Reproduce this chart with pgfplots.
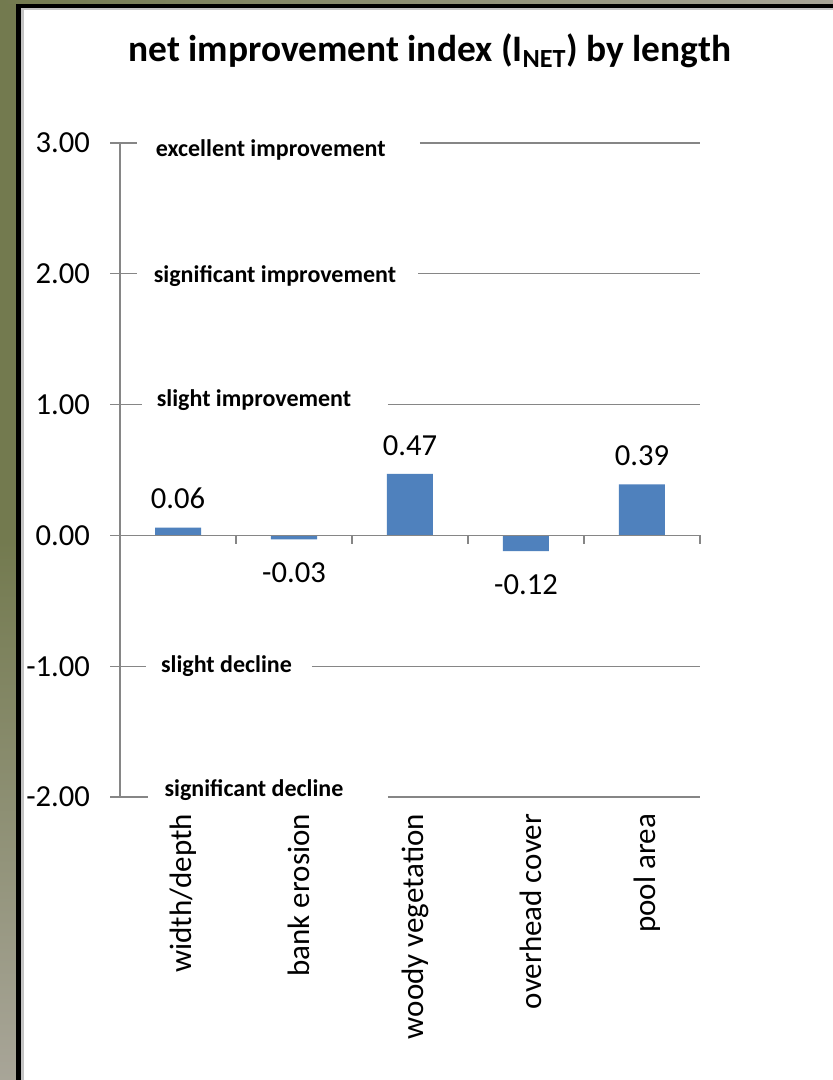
\documentclass[border=0pt]{standalone}
\usepackage{pgfplots}
\pgfplotsset{compat=1.18}
\usepackage{fontspec}
\setmainfont{Carlito}
\definecolor{barblue}{HTML}{4F81BD}
\definecolor{axgray}{HTML}{868686}
\definecolor{olivebg}{HTML}{737A4F}
\definecolor{greybg}{HTML}{A8A598}
\definecolor{framegrey}{HTML}{C4C4C4}
\begin{document}
\begin{tikzpicture}
\useasboundingbox (0,0) rectangle (416.5pt,-540pt);
% slide background and frame
\fill[top color=olivebg, bottom color=greybg, middle color=olivebg] (0,0) rectangle (8pt,-540pt);
\fill[left color=olivebg, right color=greybg] (0,0) rectangle (416.5pt,-2pt);
\fill[black] (8pt,-2pt) rectangle (416.5pt,-4pt);
\fill[black] (8pt,-2pt) rectangle (10.5pt,-540pt);
\fill[framegrey] (10.5pt,-4pt) rectangle (416.5pt,-5pt);
\fill[framegrey] (10.5pt,-4pt) rectangle (12pt,-540pt);
\fill[white] (12pt,-5pt) rectangle (416.5pt,-540pt);
% title
\node[font=\bfseries\fontsize{18.7}{22}\selectfont, anchor=base] at (215pt,-31pt)
  {net improvement index (I\textsubscript{NET}) by length};
\begin{axis}[
  at={(60pt,-398.5pt)}, anchor=south west,
  scale only axis, width=290pt, height=327pt,
  xmin=-0.5, xmax=4.5, ymin=-2, ymax=3,
  axis y line=left, axis x line=bottom,
  y axis line style={-, draw=axgray, line width=0.6pt},
  x axis line style={draw=none},
  ytick={-2,-1,0,1,2,3},
  yticklabels={-2.00,-1.00,0.00,1.00,2.00,3.00},
  tick align=outside,
  major tick length=5pt,
  ytick style={draw=axgray, line width=0.6pt},
  xtick={0,1,2,3,4},
  xticklabels={width/depth, bank erosion, woody vegetation, overhead cover, pool area},
  xtick style={draw=none},
  xticklabel style={rotate=90, anchor=east, yshift=-2.5pt, font=\fontsize{15.5}{18}\selectfont},
  yticklabel style={xshift=-6.5pt, font=\fontsize{15.3}{18}\selectfont},
  clip=false,
]
% increases
\addplot[ybar, bar width=23pt, bar shift=0pt, fill=barblue, draw=none,
  nodes near coords, point meta=explicit symbolic,
  nodes near coords style={font=\fontsize{15.3}{18}\selectfont, anchor=south, inner sep=9pt, text=black}]
  table[x=x, y=y, meta=lab] {
x y lab
0 0.06 0.06
2 0.47 0.47
4 0.39 0.39
};
% decreases
\addplot[ybar, bar width=23pt, bar shift=0pt, fill=barblue, draw=none,
  nodes near coords, point meta=explicit symbolic,
  nodes near coords style={font=\fontsize{15.3}{18}\selectfont, anchor=north, inner sep=11.5pt, text=black}]
  table[x=x, y=y, meta=lab] {
x y lab
1 -0.03 -0.03
3 -0.12 -0.12
};
% rating gridlines, interrupted by their labels
\draw[axgray, line width=0.6pt] (axis cs:-0.5,3) -- (axis cs:-0.353,3) (axis cs:2.086,3) -- (axis cs:4.5,3);
\draw[axgray, line width=0.6pt] (axis cs:-0.5,2) -- (axis cs:-0.353,2) (axis cs:2.069,2) -- (axis cs:4.5,2);
\draw[axgray, line width=0.6pt] (axis cs:-0.5,1) -- (axis cs:-0.310,1) (axis cs:1.810,1) -- (axis cs:4.5,1);
\draw[axgray, line width=0.6pt] (axis cs:-0.5,-1) -- (axis cs:-0.276,-1) (axis cs:1.155,-1) -- (axis cs:4.5,-1);
\draw[axgray, line width=0.6pt] (axis cs:-0.5,-2) -- (axis cs:-0.259,-2) (axis cs:1.810,-2) -- (axis cs:4.5,-2);
% zero axis with category separators
\draw[axgray, line width=0.6pt] (axis cs:-0.5,0) -- (axis cs:4.5,0);
\pgfplotsinvokeforeach{0.5,1.5,2.5,3.5,4.5}{\draw[axgray, line width=0.6pt] (axis cs:#1,0) -- ++(0pt,-4.5pt);}
% rating labels
\node[font=\bfseries\fontsize{12}{14}\selectfont, anchor=base] at (axis cs:0.800,2.898) {excellent improvement};
\node[font=\bfseries\fontsize{12}{14}\selectfont, anchor=base] at (axis cs:0.836,1.934) {significant improvement};
\node[font=\bfseries\fontsize{12}{14}\selectfont, anchor=base] at (axis cs:0.655,0.986) {slight improvement};
\node[font=\bfseries\fontsize{12}{14}\selectfont, anchor=base] at (axis cs:0.418,-1.047) {slight decline};
\node[font=\bfseries\fontsize{12}{14}\selectfont, anchor=base] at (axis cs:0.655,-1.995) {significant decline};
\end{axis}
\end{tikzpicture}
\end{document}
